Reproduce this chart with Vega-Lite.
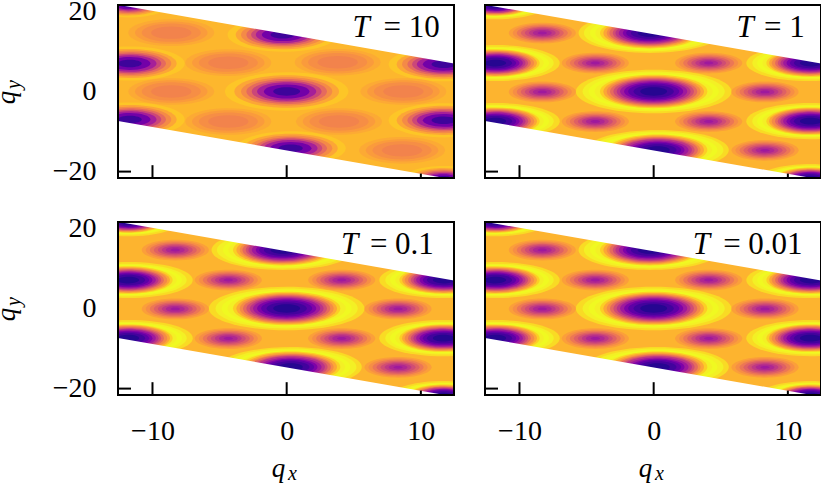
{"$schema":"https://vega.github.io/schema/vega-lite/v6.json","padding":{"left":-8,"right":0,"top":-3,"bottom":0},"background":"white",
"config":{"view":{"stroke":null},"axis":{"domain":false,"grid":false,"ticks":false,"labelFont":"Liberation Serif","labelFontSize":28,"labelColor":"black","zindex":1},"text":{"font":"Liberation Serif","color":"black"}},
"datasets":{
"frame":[{"x":-12.57,"x2":12.47,"y":-21.6,"y2":21.6}],
"tx":[{"x":-10,"y":-21.6,"y2":-18.4},{"x":0,"y":-21.6,"y2":-18.4},{"x":10,"y":-21.6,"y2":-20.5}],
"ty":[{"x":-12.57,"x2":-11.6,"y":-20}],
"m1":[{"x":-12.57,"y":21.65,"y2":24},{"x":12.47,"y":7,"y2":24}],
"m2":[{"x":-12.57,"y":-7.35,"y2":-24},{"x":12.47,"y":-22,"y2":-24}],
"qy":[{"x":-20.25,"y":-1.5,"t":"q"}],
"qys":[{"x":-19.85,"y":1.75,"t":"y"}],
"qx":[{"x":-0.6,"y":-42.1,"t":"q"}],
"qxs":[{"x":0.43,"y":-42.85,"t":"x"}],
"cold":[
{"x":0,"y":0,"r":5.8,"v":93},{"x":0,"y":0,"r":5.3,"v":98},{"x":0,"y":0,"r":4.85,"v":100},{"x":0,"y":0,"r":4.4,"v":98},{"x":0,"y":0,"r":4,"v":90},{"x":0,"y":0,"r":3.75,"v":80},{"x":0,"y":0,"r":3.5,"v":72},{"x":0,"y":0,"r":3.25,"v":62},{"x":0,"y":0,"r":3,"v":52},{"x":0,"y":0,"r":2.75,"v":43},{"x":0,"y":0,"r":2.5,"v":34},{"x":0,"y":0,"r":2.2,"v":25},{"x":0,"y":0,"r":1.9,"v":17},{"x":0,"y":0,"r":1.5,"v":10},{"x":0,"y":0,"r":1,"v":4},
{"x":-0.3,"y":14.6,"r":5.3,"v":93},{"x":-0.3,"y":14.6,"r":4.9,"v":98},{"x":-0.3,"y":14.6,"r":4.45,"v":100},{"x":-0.3,"y":14.6,"r":4.05,"v":98},{"x":-0.3,"y":14.6,"r":3.7,"v":90},{"x":-0.3,"y":14.6,"r":3.45,"v":80},{"x":-0.3,"y":14.6,"r":3.2,"v":72},{"x":-0.3,"y":14.6,"r":3,"v":62},{"x":-0.3,"y":14.6,"r":2.75,"v":52},{"x":-0.3,"y":14.6,"r":2.55,"v":43},{"x":-0.3,"y":14.6,"r":2.3,"v":34},{"x":-0.3,"y":14.6,"r":2,"v":25},{"x":-0.3,"y":14.6,"r":1.75,"v":17},{"x":-0.3,"y":14.6,"r":1.4,"v":10},{"x":-0.3,"y":14.6,"r":0.9,"v":4},
{"x":0.3,"y":-14.6,"r":5.3,"v":93},{"x":0.3,"y":-14.6,"r":4.9,"v":98},{"x":0.3,"y":-14.6,"r":4.45,"v":100},{"x":0.3,"y":-14.6,"r":4.05,"v":98},{"x":0.3,"y":-14.6,"r":3.7,"v":90},{"x":0.3,"y":-14.6,"r":3.45,"v":80},{"x":0.3,"y":-14.6,"r":3.2,"v":72},{"x":0.3,"y":-14.6,"r":3,"v":62},{"x":0.3,"y":-14.6,"r":2.75,"v":52},{"x":0.3,"y":-14.6,"r":2.55,"v":43},{"x":0.3,"y":-14.6,"r":2.3,"v":34},{"x":0.3,"y":-14.6,"r":2,"v":25},{"x":0.3,"y":-14.6,"r":1.75,"v":17},{"x":0.3,"y":-14.6,"r":1.4,"v":10},{"x":0.3,"y":-14.6,"r":0.9,"v":4},
{"x":-11.8,"y":7.1,"r":4.8,"v":93},{"x":-11.8,"y":7.1,"r":4.35,"v":98},{"x":-11.8,"y":7.1,"r":4,"v":100},{"x":-11.8,"y":7.1,"r":3.6,"v":98},{"x":-11.8,"y":7.1,"r":3.3,"v":90},{"x":-11.8,"y":7.1,"r":3.1,"v":80},{"x":-11.8,"y":7.1,"r":2.9,"v":72},{"x":-11.8,"y":7.1,"r":2.65,"v":62},{"x":-11.8,"y":7.1,"r":2.45,"v":52},{"x":-11.8,"y":7.1,"r":2.25,"v":43},{"x":-11.8,"y":7.1,"r":2.05,"v":34},{"x":-11.8,"y":7.1,"r":1.8,"v":25},{"x":-11.8,"y":7.1,"r":1.55,"v":17},{"x":-11.8,"y":7.1,"r":1.25,"v":10},{"x":-11.8,"y":7.1,"r":0.8,"v":4},
{"x":11.7,"y":7.1,"r":4.8,"v":93},{"x":11.7,"y":7.1,"r":4.35,"v":98},{"x":11.7,"y":7.1,"r":4,"v":100},{"x":11.7,"y":7.1,"r":3.6,"v":98},{"x":11.7,"y":7.1,"r":3.3,"v":90},{"x":11.7,"y":7.1,"r":3.1,"v":80},{"x":11.7,"y":7.1,"r":2.9,"v":72},{"x":11.7,"y":7.1,"r":2.65,"v":62},{"x":11.7,"y":7.1,"r":2.45,"v":52},{"x":11.7,"y":7.1,"r":2.25,"v":43},{"x":11.7,"y":7.1,"r":2.05,"v":34},{"x":11.7,"y":7.1,"r":1.8,"v":25},{"x":11.7,"y":7.1,"r":1.55,"v":17},{"x":11.7,"y":7.1,"r":1.25,"v":10},{"x":11.7,"y":7.1,"r":0.8,"v":4},
{"x":-11.8,"y":-7.4,"r":4.8,"v":93},{"x":-11.8,"y":-7.4,"r":4.35,"v":98},{"x":-11.8,"y":-7.4,"r":4,"v":100},{"x":-11.8,"y":-7.4,"r":3.6,"v":98},{"x":-11.8,"y":-7.4,"r":3.3,"v":90},{"x":-11.8,"y":-7.4,"r":3.1,"v":80},{"x":-11.8,"y":-7.4,"r":2.9,"v":72},{"x":-11.8,"y":-7.4,"r":2.65,"v":62},{"x":-11.8,"y":-7.4,"r":2.45,"v":52},{"x":-11.8,"y":-7.4,"r":2.25,"v":43},{"x":-11.8,"y":-7.4,"r":2.05,"v":34},{"x":-11.8,"y":-7.4,"r":1.8,"v":25},{"x":-11.8,"y":-7.4,"r":1.55,"v":17},{"x":-11.8,"y":-7.4,"r":1.25,"v":10},{"x":-11.8,"y":-7.4,"r":0.8,"v":4},
{"x":11.7,"y":-7.4,"r":4.8,"v":93},{"x":11.7,"y":-7.4,"r":4.35,"v":98},{"x":11.7,"y":-7.4,"r":4,"v":100},{"x":11.7,"y":-7.4,"r":3.6,"v":98},{"x":11.7,"y":-7.4,"r":3.3,"v":90},{"x":11.7,"y":-7.4,"r":3.1,"v":80},{"x":11.7,"y":-7.4,"r":2.9,"v":72},{"x":11.7,"y":-7.4,"r":2.65,"v":62},{"x":11.7,"y":-7.4,"r":2.45,"v":52},{"x":11.7,"y":-7.4,"r":2.25,"v":43},{"x":11.7,"y":-7.4,"r":2.05,"v":34},{"x":11.7,"y":-7.4,"r":1.8,"v":25},{"x":11.7,"y":-7.4,"r":1.55,"v":17},{"x":11.7,"y":-7.4,"r":1.25,"v":10},{"x":11.7,"y":-7.4,"r":0.8,"v":4},
{"x":-11.8,"y":21.6,"r":3.8,"v":93},{"x":-11.8,"y":21.6,"r":3.4,"v":98},{"x":-11.8,"y":21.6,"r":3.15,"v":100},{"x":-11.8,"y":21.6,"r":2.85,"v":98},{"x":-11.8,"y":21.6,"r":2.6,"v":90},{"x":-11.8,"y":21.6,"r":2.45,"v":80},{"x":-11.8,"y":21.6,"r":2.25,"v":72},{"x":-11.8,"y":21.6,"r":2.1,"v":62},{"x":-11.8,"y":21.6,"r":1.95,"v":52},{"x":-11.8,"y":21.6,"r":1.8,"v":43},{"x":-11.8,"y":21.6,"r":1.6,"v":34},{"x":-11.8,"y":21.6,"r":1.45,"v":25},{"x":-11.8,"y":21.6,"r":1.25,"v":17},{"x":-11.8,"y":21.6,"r":1,"v":10},{"x":-11.8,"y":21.6,"r":0.65,"v":4},
{"x":11.7,"y":-21.7,"r":3.8,"v":93},{"x":11.7,"y":-21.7,"r":3.4,"v":98},{"x":11.7,"y":-21.7,"r":3.15,"v":100},{"x":11.7,"y":-21.7,"r":2.85,"v":98},{"x":11.7,"y":-21.7,"r":2.6,"v":90},{"x":11.7,"y":-21.7,"r":2.45,"v":80},{"x":11.7,"y":-21.7,"r":2.25,"v":72},{"x":11.7,"y":-21.7,"r":2.1,"v":62},{"x":11.7,"y":-21.7,"r":1.95,"v":52},{"x":11.7,"y":-21.7,"r":1.8,"v":43},{"x":11.7,"y":-21.7,"r":1.6,"v":34},{"x":11.7,"y":-21.7,"r":1.45,"v":25},{"x":11.7,"y":-21.7,"r":1.25,"v":17},{"x":11.7,"y":-21.7,"r":1,"v":10},{"x":11.7,"y":-21.7,"r":0.65,"v":4},
{"x":-8.3,"y":14.6,"r":2.5,"v":78},{"x":-8.3,"y":14.6,"r":2.2,"v":73},{"x":-8.3,"y":14.6,"r":1.9,"v":66},{"x":-8.3,"y":14.6,"r":1.6,"v":59},{"x":-8.3,"y":14.6,"r":1.3,"v":52},{"x":-8.3,"y":14.6,"r":1,"v":45},{"x":-8.3,"y":14.6,"r":0.7,"v":39},{"x":-8.3,"y":14.6,"r":0.35,"v":34},
{"x":-4.35,"y":7.1,"r":2.5,"v":78},{"x":-4.35,"y":7.1,"r":2.2,"v":73},{"x":-4.35,"y":7.1,"r":1.9,"v":66},{"x":-4.35,"y":7.1,"r":1.6,"v":59},{"x":-4.35,"y":7.1,"r":1.3,"v":52},{"x":-4.35,"y":7.1,"r":1,"v":45},{"x":-4.35,"y":7.1,"r":0.7,"v":39},{"x":-4.35,"y":7.1,"r":0.35,"v":34},
{"x":4.1,"y":7.1,"r":2.5,"v":78},{"x":4.1,"y":7.1,"r":2.2,"v":73},{"x":4.1,"y":7.1,"r":1.9,"v":66},{"x":4.1,"y":7.1,"r":1.6,"v":59},{"x":4.1,"y":7.1,"r":1.3,"v":52},{"x":4.1,"y":7.1,"r":1,"v":45},{"x":4.1,"y":7.1,"r":0.7,"v":39},{"x":4.1,"y":7.1,"r":0.35,"v":34},
{"x":-8.3,"y":-0.1,"r":2.5,"v":78},{"x":-8.3,"y":-0.1,"r":2.2,"v":73},{"x":-8.3,"y":-0.1,"r":1.9,"v":66},{"x":-8.3,"y":-0.1,"r":1.6,"v":59},{"x":-8.3,"y":-0.1,"r":1.3,"v":52},{"x":-8.3,"y":-0.1,"r":1,"v":45},{"x":-8.3,"y":-0.1,"r":0.7,"v":39},{"x":-8.3,"y":-0.1,"r":0.35,"v":34},
{"x":8.3,"y":-0.1,"r":2.5,"v":78},{"x":8.3,"y":-0.1,"r":2.2,"v":73},{"x":8.3,"y":-0.1,"r":1.9,"v":66},{"x":8.3,"y":-0.1,"r":1.6,"v":59},{"x":8.3,"y":-0.1,"r":1.3,"v":52},{"x":8.3,"y":-0.1,"r":1,"v":45},{"x":8.3,"y":-0.1,"r":0.7,"v":39},{"x":8.3,"y":-0.1,"r":0.35,"v":34},
{"x":-4.35,"y":-7.5,"r":2.5,"v":78},{"x":-4.35,"y":-7.5,"r":2.2,"v":73},{"x":-4.35,"y":-7.5,"r":1.9,"v":66},{"x":-4.35,"y":-7.5,"r":1.6,"v":59},{"x":-4.35,"y":-7.5,"r":1.3,"v":52},{"x":-4.35,"y":-7.5,"r":1,"v":45},{"x":-4.35,"y":-7.5,"r":0.7,"v":39},{"x":-4.35,"y":-7.5,"r":0.35,"v":34},
{"x":4.1,"y":-7.5,"r":2.5,"v":78},{"x":4.1,"y":-7.5,"r":2.2,"v":73},{"x":4.1,"y":-7.5,"r":1.9,"v":66},{"x":4.1,"y":-7.5,"r":1.6,"v":59},{"x":4.1,"y":-7.5,"r":1.3,"v":52},{"x":4.1,"y":-7.5,"r":1,"v":45},{"x":4.1,"y":-7.5,"r":0.7,"v":39},{"x":4.1,"y":-7.5,"r":0.35,"v":34},
{"x":8.3,"y":-14.7,"r":2.5,"v":78},{"x":8.3,"y":-14.7,"r":2.2,"v":73},{"x":8.3,"y":-14.7,"r":1.9,"v":66},{"x":8.3,"y":-14.7,"r":1.6,"v":59},{"x":8.3,"y":-14.7,"r":1.3,"v":52},{"x":8.3,"y":-14.7,"r":1,"v":45},{"x":8.3,"y":-14.7,"r":0.7,"v":39},{"x":8.3,"y":-14.7,"r":0.35,"v":34}
],
"hot":[
{"x":0,"y":0,"r":4.6,"v":88},{"x":0,"y":0,"r":3.9,"v":80},{"x":0,"y":0,"r":3.4,"v":72},{"x":0,"y":0,"r":3,"v":62},{"x":0,"y":0,"r":2.6,"v":50},{"x":0,"y":0,"r":2.2,"v":36},{"x":0,"y":0,"r":1.7,"v":22},{"x":0,"y":0,"r":1,"v":9},
{"x":-0.3,"y":14.2,"r":4.1,"v":88},{"x":-0.3,"y":14.2,"r":3.5,"v":80},{"x":-0.3,"y":14.2,"r":3.1,"v":72},{"x":-0.3,"y":14.2,"r":2.7,"v":62},{"x":-0.3,"y":14.2,"r":2.35,"v":50},{"x":-0.3,"y":14.2,"r":2,"v":36},{"x":-0.3,"y":14.2,"r":1.55,"v":22},{"x":-0.3,"y":14.2,"r":0.9,"v":9},
{"x":0.3,"y":-14.2,"r":4.1,"v":88},{"x":0.3,"y":-14.2,"r":3.5,"v":80},{"x":0.3,"y":-14.2,"r":3.1,"v":72},{"x":0.3,"y":-14.2,"r":2.7,"v":62},{"x":0.3,"y":-14.2,"r":2.35,"v":50},{"x":0.3,"y":-14.2,"r":2,"v":36},{"x":0.3,"y":-14.2,"r":1.55,"v":22},{"x":0.3,"y":-14.2,"r":0.9,"v":9},
{"x":-11.7,"y":7,"r":4.1,"v":88},{"x":-11.7,"y":7,"r":3.5,"v":80},{"x":-11.7,"y":7,"r":3.1,"v":72},{"x":-11.7,"y":7,"r":2.7,"v":62},{"x":-11.7,"y":7,"r":2.35,"v":50},{"x":-11.7,"y":7,"r":2,"v":36},{"x":-11.7,"y":7,"r":1.55,"v":22},{"x":-11.7,"y":7,"r":0.9,"v":9},
{"x":11.7,"y":6.8,"r":4.1,"v":88},{"x":11.7,"y":6.8,"r":3.5,"v":80},{"x":11.7,"y":6.8,"r":3.1,"v":72},{"x":11.7,"y":6.8,"r":2.7,"v":62},{"x":11.7,"y":6.8,"r":2.35,"v":50},{"x":11.7,"y":6.8,"r":2,"v":36},{"x":11.7,"y":6.8,"r":1.55,"v":22},{"x":11.7,"y":6.8,"r":0.9,"v":9},
{"x":-11.7,"y":-7,"r":4.1,"v":88},{"x":-11.7,"y":-7,"r":3.5,"v":80},{"x":-11.7,"y":-7,"r":3.1,"v":72},{"x":-11.7,"y":-7,"r":2.7,"v":62},{"x":-11.7,"y":-7,"r":2.35,"v":50},{"x":-11.7,"y":-7,"r":2,"v":36},{"x":-11.7,"y":-7,"r":1.55,"v":22},{"x":-11.7,"y":-7,"r":0.9,"v":9},
{"x":11.7,"y":-7.2,"r":4.1,"v":88},{"x":11.7,"y":-7.2,"r":3.5,"v":80},{"x":11.7,"y":-7.2,"r":3.1,"v":72},{"x":11.7,"y":-7.2,"r":2.7,"v":62},{"x":11.7,"y":-7.2,"r":2.35,"v":50},{"x":11.7,"y":-7.2,"r":2,"v":36},{"x":11.7,"y":-7.2,"r":1.55,"v":22},{"x":11.7,"y":-7.2,"r":0.9,"v":9},
{"x":-11.8,"y":21.6,"r":3,"v":88},{"x":-11.8,"y":21.6,"r":2.5,"v":80},{"x":-11.8,"y":21.6,"r":2.2,"v":72},{"x":-11.8,"y":21.6,"r":1.9,"v":62},{"x":-11.8,"y":21.6,"r":1.6,"v":50},{"x":-11.8,"y":21.6,"r":1.3,"v":36},{"x":-11.8,"y":21.6,"r":1,"v":22},{"x":-11.8,"y":21.6,"r":0.6,"v":9},
{"x":11.7,"y":-21.7,"r":3,"v":88},{"x":11.7,"y":-21.7,"r":2.5,"v":80},{"x":11.7,"y":-21.7,"r":2.2,"v":72},{"x":11.7,"y":-21.7,"r":1.9,"v":62},{"x":11.7,"y":-21.7,"r":1.6,"v":50},{"x":11.7,"y":-21.7,"r":1.3,"v":36},{"x":11.7,"y":-21.7,"r":1,"v":22},{"x":11.7,"y":-21.7,"r":0.6,"v":9},
{"x":-8.6,"y":14.7,"r":3.2,"v":81},{"x":-8.6,"y":14.7,"r":2.7,"v":77},{"x":-8.6,"y":14.7,"r":2.2,"v":73},{"x":-8.6,"y":14.7,"r":1.5,"v":70},
{"x":-4.35,"y":7.2,"r":3.2,"v":81},{"x":-4.35,"y":7.2,"r":2.7,"v":77},{"x":-4.35,"y":7.2,"r":2.2,"v":73},{"x":-4.35,"y":7.2,"r":1.5,"v":70},
{"x":3.8,"y":7.3,"r":3.2,"v":81},{"x":3.8,"y":7.3,"r":2.7,"v":77},{"x":3.8,"y":7.3,"r":2.2,"v":73},{"x":3.8,"y":7.3,"r":1.5,"v":70},
{"x":-8.6,"y":0,"r":3.2,"v":81},{"x":-8.6,"y":0,"r":2.7,"v":77},{"x":-8.6,"y":0,"r":2.2,"v":73},{"x":-8.6,"y":0,"r":1.5,"v":70},
{"x":8.7,"y":0,"r":3.2,"v":81},{"x":8.7,"y":0,"r":2.7,"v":77},{"x":8.7,"y":0,"r":2.2,"v":73},{"x":8.7,"y":0,"r":1.5,"v":70},
{"x":-4.35,"y":-7.5,"r":3.2,"v":81},{"x":-4.35,"y":-7.5,"r":2.7,"v":77},{"x":-4.35,"y":-7.5,"r":2.2,"v":73},{"x":-4.35,"y":-7.5,"r":1.5,"v":70},
{"x":3.9,"y":-7.5,"r":3.2,"v":81},{"x":3.9,"y":-7.5,"r":2.7,"v":77},{"x":3.9,"y":-7.5,"r":2.2,"v":73},{"x":3.9,"y":-7.5,"r":1.5,"v":70},
{"x":8.6,"y":-14.7,"r":3.2,"v":81},{"x":8.6,"y":-14.7,"r":2.7,"v":77},{"x":8.6,"y":-14.7,"r":2.2,"v":73},{"x":8.6,"y":-14.7,"r":1.5,"v":70}
]},
"bounds":"flush","spacing":{"row":44,"column":31},"columns":2,
"concat":[
{"width":336,"height":173,"encoding":{"x":{"field":"x","type":"quantitative","scale":{"domain":[-12.57,12.47],"nice":false,"zero":false},"axis":{"values":[-10,0,10],"labels":false,"title":null}},"y":{"field":"y","type":"quantitative","scale":{"domain":[-21.6,21.6],"nice":false,"zero":false},"axis":{"values":[-20,0,20],"labelPadding":22,"title":null}}},
"layer":[
{"data":{"name":"frame"},"mark":{"type":"rect","fill":"#fdb72d"},"encoding":{"x2":{"field":"x2"},"y2":{"field":"y2"}}},
{"data":{"name":"hot"},"transform":[{"filter":"datum.v>=92"}],"mark":{"type":"point","filled":true,"opacity":1,"strokeWidth":0,"clip":true,"shape":"M-1,0A1,0.28 0 1 1 1,0A1,0.28 0 1 1 -1,0Z"},"encoding":{"size":{"field":"r","type":"quantitative","legend":null,"scale":{"type":"pow","exponent":2,"domain":[0,10],"range":[0,72040]}},"color":{"field":"v","type":"quantitative","legend":null,"scale":{"scheme":"plasma","domain":[0,100]}},"order":{"field":"r","sort":"descending"}}},
{"data":{"name":"hot"},"transform":[{"filter":"datum.v<92"}],"mark":{"type":"point","filled":true,"opacity":1,"strokeWidth":0,"clip":true,"shape":"M-1,0A1,0.31 0 1 1 1,0A1,0.31 0 1 1 -1,0Z"},"encoding":{"size":{"field":"r","type":"quantitative","legend":null,"scale":{"type":"pow","exponent":2,"domain":[0,10],"range":[0,72040]}},"color":{"field":"v","type":"quantitative","legend":null,"scale":{"scheme":"plasma","domain":[0,100]}},"order":{"field":"r","sort":"descending"}}},
{"data":{"name":"m1"},"mark":{"type":"area","orient":"vertical","fill":"white","clip":true},"encoding":{"y2":{"field":"y2"}}},
{"data":{"name":"m2"},"mark":{"type":"area","orient":"vertical","fill":"white","clip":true},"encoding":{"y2":{"field":"y2"}}},
{"data":{"name":"tx"},"mark":{"type":"rule","color":"black","strokeWidth":2},"encoding":{"y2":{"field":"y2"}}},
{"data":{"name":"ty"},"mark":{"type":"rule","color":"black","strokeWidth":2},"encoding":{"x2":{"field":"x2"}}},
{"data":{"values":[{"x":6.2,"y":13.7,"t":"T"}]},"mark":{"type":"text","align":"right","baseline":"alphabetic","fontSize":31,"fontStyle":"italic"},"encoding":{"text":{"field":"t"}}},
{"data":{"values":[{"x":11.4,"y":13.7,"t":"= 10"}]},"mark":{"type":"text","align":"right","baseline":"alphabetic","fontSize":31},"encoding":{"text":{"field":"t"}}},
{"data":{"name":"qy"},"mark":{"type":"text","align":"center","baseline":"alphabetic","angle":270,"fontSize":27,"fontStyle":"italic"},"encoding":{"text":{"field":"t"}}},
{"data":{"name":"qys"},"mark":{"type":"text","align":"center","baseline":"alphabetic","angle":270,"fontSize":20,"fontStyle":"italic"},"encoding":{"text":{"field":"t"}}},
{"data":{"name":"frame"},"mark":{"type":"rect","fill":"transparent","stroke":"black","strokeWidth":2},"encoding":{"x2":{"field":"x2"},"y2":{"field":"y2"}}}
]},
{"width":336,"height":173,"encoding":{"x":{"field":"x","type":"quantitative","scale":{"domain":[-12.57,12.47],"nice":false,"zero":false},"axis":{"values":[-10,0,10],"labels":false,"title":null}},"y":{"field":"y","type":"quantitative","scale":{"domain":[-21.6,21.6],"nice":false,"zero":false},"axis":{"values":[-20,0,20],"labels":false,"title":null}}},
"layer":[
{"data":{"name":"frame"},"mark":{"type":"rect","fill":"#fdb42f"},"encoding":{"x2":{"field":"x2"},"y2":{"field":"y2"}}},
{"data":{"name":"cold"},"transform":[{"filter":"datum.v>=92"}],"mark":{"type":"point","filled":true,"opacity":1,"strokeWidth":0,"clip":true,"shape":"M-1,0A1,0.28 0 1 1 1,0A1,0.28 0 1 1 -1,0Z"},"encoding":{"size":{"field":"r","type":"quantitative","legend":null,"scale":{"type":"pow","exponent":2,"domain":[0,10],"range":[0,76000]}},"color":{"field":"v","type":"quantitative","legend":null,"scale":{"scheme":"plasma","domain":[0,100]}},"order":{"field":"r","sort":"descending"}}},
{"data":{"name":"cold"},"transform":[{"filter":"datum.v<92"}],"mark":{"type":"point","filled":true,"opacity":1,"strokeWidth":0,"clip":true,"shape":"M-1,0A1,0.31 0 1 1 1,0A1,0.31 0 1 1 -1,0Z"},"encoding":{"size":{"field":"r","type":"quantitative","legend":null,"scale":{"type":"pow","exponent":2,"domain":[0,10],"range":[0,76000]}},"color":{"field":"v","type":"quantitative","legend":null,"scale":{"scheme":"plasma","domain":[0,100]}},"order":{"field":"r","sort":"descending"}}},
{"data":{"name":"m1"},"mark":{"type":"area","orient":"vertical","fill":"white","clip":true},"encoding":{"y2":{"field":"y2"}}},
{"data":{"name":"m2"},"mark":{"type":"area","orient":"vertical","fill":"white","clip":true},"encoding":{"y2":{"field":"y2"}}},
{"data":{"name":"tx"},"mark":{"type":"rule","color":"black","strokeWidth":2},"encoding":{"y2":{"field":"y2"}}},
{"data":{"name":"ty"},"mark":{"type":"rule","color":"black","strokeWidth":2},"encoding":{"x2":{"field":"x2"}}},
{"data":{"values":[{"x":7.45,"y":13.7,"t":"T"}]},"mark":{"type":"text","align":"right","baseline":"alphabetic","fontSize":31,"fontStyle":"italic"},"encoding":{"text":{"field":"t"}}},
{"data":{"values":[{"x":11.25,"y":13.7,"t":"= 1"}]},"mark":{"type":"text","align":"right","baseline":"alphabetic","fontSize":31},"encoding":{"text":{"field":"t"}}},
{"data":{"name":"frame"},"mark":{"type":"rect","fill":"transparent","stroke":"black","strokeWidth":2},"encoding":{"x2":{"field":"x2"},"y2":{"field":"y2"}}}
]},
{"width":336,"height":173,"encoding":{"x":{"field":"x","type":"quantitative","scale":{"domain":[-12.57,12.47],"nice":false,"zero":false},"axis":{"values":[-10,0,10],"labelPadding":22,"title":null}},"y":{"field":"y","type":"quantitative","scale":{"domain":[-21.6,21.6],"nice":false,"zero":false},"axis":{"values":[-20,0,20],"labelPadding":22,"title":null}}},
"layer":[
{"data":{"name":"frame"},"mark":{"type":"rect","fill":"#fdb42f"},"encoding":{"x2":{"field":"x2"},"y2":{"field":"y2"}}},
{"data":{"name":"cold"},"transform":[{"filter":"datum.v>=92"}],"mark":{"type":"point","filled":true,"opacity":1,"strokeWidth":0,"clip":true,"shape":"M-1,0A1,0.28 0 1 1 1,0A1,0.28 0 1 1 -1,0Z"},"encoding":{"size":{"field":"r","type":"quantitative","legend":null,"scale":{"type":"pow","exponent":2,"domain":[0,10],"range":[0,72040]}},"color":{"field":"v","type":"quantitative","legend":null,"scale":{"scheme":"plasma","domain":[0,100]}},"order":{"field":"r","sort":"descending"}}},
{"data":{"name":"cold"},"transform":[{"filter":"datum.v<92"}],"mark":{"type":"point","filled":true,"opacity":1,"strokeWidth":0,"clip":true,"shape":"M-1,0A1,0.31 0 1 1 1,0A1,0.31 0 1 1 -1,0Z"},"encoding":{"size":{"field":"r","type":"quantitative","legend":null,"scale":{"type":"pow","exponent":2,"domain":[0,10],"range":[0,72040]}},"color":{"field":"v","type":"quantitative","legend":null,"scale":{"scheme":"plasma","domain":[0,100]}},"order":{"field":"r","sort":"descending"}}},
{"data":{"name":"m1"},"mark":{"type":"area","orient":"vertical","fill":"white","clip":true},"encoding":{"y2":{"field":"y2"}}},
{"data":{"name":"m2"},"mark":{"type":"area","orient":"vertical","fill":"white","clip":true},"encoding":{"y2":{"field":"y2"}}},
{"data":{"name":"tx"},"mark":{"type":"rule","color":"black","strokeWidth":2},"encoding":{"y2":{"field":"y2"}}},
{"data":{"name":"ty"},"mark":{"type":"rule","color":"black","strokeWidth":2},"encoding":{"x2":{"field":"x2"}}},
{"data":{"values":[{"x":5.34,"y":13.5,"t":"T"}]},"mark":{"type":"text","align":"right","baseline":"alphabetic","fontSize":31,"fontStyle":"italic"},"encoding":{"text":{"field":"t"}}},
{"data":{"values":[{"x":10.97,"y":13.5,"t":"= 0.1"}]},"mark":{"type":"text","align":"right","baseline":"alphabetic","fontSize":31},"encoding":{"text":{"field":"t"}}},
{"data":{"name":"qy"},"mark":{"type":"text","align":"center","baseline":"alphabetic","angle":270,"fontSize":27,"fontStyle":"italic"},"encoding":{"text":{"field":"t"}}},
{"data":{"name":"qys"},"mark":{"type":"text","align":"center","baseline":"alphabetic","angle":270,"fontSize":20,"fontStyle":"italic"},"encoding":{"text":{"field":"t"}}},
{"data":{"name":"qx"},"mark":{"type":"text","align":"center","baseline":"alphabetic","fontSize":27,"fontStyle":"italic"},"encoding":{"text":{"field":"t"}}},
{"data":{"name":"qxs"},"mark":{"type":"text","align":"center","baseline":"alphabetic","fontSize":20,"fontStyle":"italic"},"encoding":{"text":{"field":"t"}}},
{"data":{"name":"frame"},"mark":{"type":"rect","fill":"transparent","stroke":"black","strokeWidth":2},"encoding":{"x2":{"field":"x2"},"y2":{"field":"y2"}}}
]},
{"width":336,"height":173,"encoding":{"x":{"field":"x","type":"quantitative","scale":{"domain":[-12.57,12.47],"nice":false,"zero":false},"axis":{"values":[-10,0,10],"labelPadding":22,"title":null}},"y":{"field":"y","type":"quantitative","scale":{"domain":[-21.6,21.6],"nice":false,"zero":false},"axis":{"values":[-20,0,20],"labels":false,"title":null}}},
"layer":[
{"data":{"name":"frame"},"mark":{"type":"rect","fill":"#fdb42f"},"encoding":{"x2":{"field":"x2"},"y2":{"field":"y2"}}},
{"data":{"name":"cold"},"transform":[{"filter":"datum.v>=92"}],"mark":{"type":"point","filled":true,"opacity":1,"strokeWidth":0,"clip":true,"shape":"M-1,0A1,0.28 0 1 1 1,0A1,0.28 0 1 1 -1,0Z"},"encoding":{"size":{"field":"r","type":"quantitative","legend":null,"scale":{"type":"pow","exponent":2,"domain":[0,10],"range":[0,72040]}},"color":{"field":"v","type":"quantitative","legend":null,"scale":{"scheme":"plasma","domain":[0,100]}},"order":{"field":"r","sort":"descending"}}},
{"data":{"name":"cold"},"transform":[{"filter":"datum.v<92"}],"mark":{"type":"point","filled":true,"opacity":1,"strokeWidth":0,"clip":true,"shape":"M-1,0A1,0.31 0 1 1 1,0A1,0.31 0 1 1 -1,0Z"},"encoding":{"size":{"field":"r","type":"quantitative","legend":null,"scale":{"type":"pow","exponent":2,"domain":[0,10],"range":[0,72040]}},"color":{"field":"v","type":"quantitative","legend":null,"scale":{"scheme":"plasma","domain":[0,100]}},"order":{"field":"r","sort":"descending"}}},
{"data":{"name":"m1"},"mark":{"type":"area","orient":"vertical","fill":"white","clip":true},"encoding":{"y2":{"field":"y2"}}},
{"data":{"name":"m2"},"mark":{"type":"area","orient":"vertical","fill":"white","clip":true},"encoding":{"y2":{"field":"y2"}}},
{"data":{"name":"tx"},"mark":{"type":"rule","color":"black","strokeWidth":2},"encoding":{"y2":{"field":"y2"}}},
{"data":{"name":"ty"},"mark":{"type":"rule","color":"black","strokeWidth":2},"encoding":{"x2":{"field":"x2"}}},
{"data":{"values":[{"x":4.2,"y":13.5,"t":"T"}]},"mark":{"type":"text","align":"right","baseline":"alphabetic","fontSize":31,"fontStyle":"italic"},"encoding":{"text":{"field":"t"}}},
{"data":{"values":[{"x":11.1,"y":13.5,"t":"= 0.01"}]},"mark":{"type":"text","align":"right","baseline":"alphabetic","fontSize":31},"encoding":{"text":{"field":"t"}}},
{"data":{"name":"qx"},"mark":{"type":"text","align":"center","baseline":"alphabetic","fontSize":27,"fontStyle":"italic"},"encoding":{"text":{"field":"t"}}},
{"data":{"name":"qxs"},"mark":{"type":"text","align":"center","baseline":"alphabetic","fontSize":20,"fontStyle":"italic"},"encoding":{"text":{"field":"t"}}},
{"data":{"name":"frame"},"mark":{"type":"rect","fill":"transparent","stroke":"black","strokeWidth":2},"encoding":{"x2":{"field":"x2"},"y2":{"field":"y2"}}}
]}
]}
